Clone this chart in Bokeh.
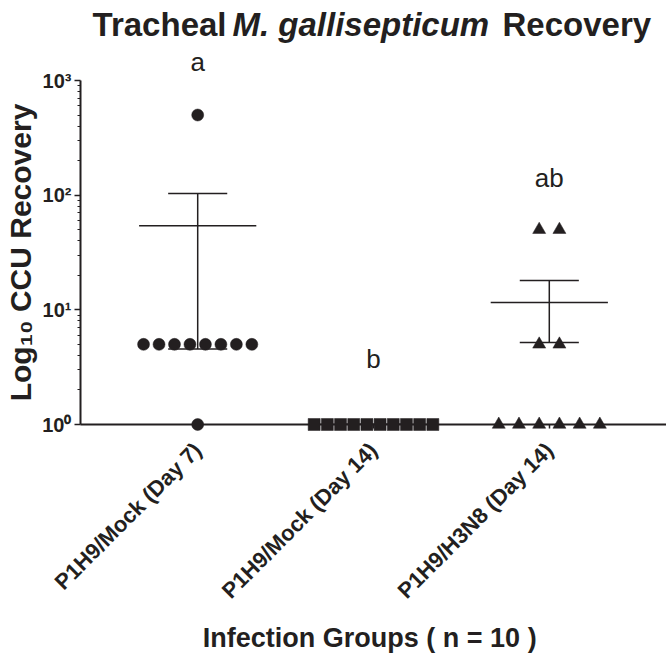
import math
from bokeh.plotting import figure
from bokeh.models import Range1d, FixedTicker, CustomJSTickFormatter, Label
from bokeh.core.properties import value
from bokeh.embed import file_html
from bokeh.resources import INLINE

# ---------------- data ----------------
groups = ["P1H9/Mock (Day 7)", "P1H9/Mock (Day 14)", "P1H9/H3N8 (Day 14)"]
day7_mock = [1, 5, 5, 5, 5, 5, 5, 5, 5, 500]
day14_mock = [1, 1, 1, 1, 1, 1, 1, 1, 1, 1]
day14_h3n8 = [1, 1, 1, 1, 1, 1, 5, 5, 50, 50]
sig_letters = ["a", "b", "ab"]
sig_y = [1450, 3.7, 142]
y_major_ticks = [1, 10, 100, 1000]
y_min, y_max = 1, 1000
y_title = "Log\u2081\u2080 CCU Recovery"
x_title = "Infection  Groups ( n = 10 )"

# ---------------- style / layout ----------------
INK = "#231f20"
FONT = "Liberation Sans"
markers = ["circle", "square", "triangle"]
marker_sizes = [12, 12, 13]
spread = [0.088, 0.075, 0.115]
mean_half = 1 / 3
cap_half = 0.168

W, H = 666, 659
LEFT, BOTTOM = 80, 235
frame_bottom = H - BOTTOM          # 424
axis_top_px = 80                   # where 10^3 sits
decades = math.log10(y_max / y_min)
px_per_decade = (frame_bottom - axis_top_px) / decades
y_end = y_min * 10 ** (frame_bottom / px_per_decade)

series = [day7_mock, day14_mock, day14_h3n8]
group_x = [1, 2, 3]
x_start, x_end = 1 / 3, 3 + 2 / 3

p = figure(width=W, height=H, output_backend="svg", toolbar_location=None,
           y_axis_type="log", x_range=Range1d(x_start, x_end), y_range=Range1d(y_min, y_end),
           min_border_left=LEFT, min_border_right=0, min_border_top=0, min_border_bottom=BOTTOM)
p.outline_line_color = None
p.grid.grid_line_color = None
p.background_fill_color = "white"
p.border_fill_color = "white"

# mean +/- SEM
for gx, vals in zip(group_x, series):
    n = len(vals)
    m = sum(vals) / n
    sd = math.sqrt(sum((v - m) ** 2 for v in vals) / (n - 1))
    se = sd / math.sqrt(n)
    lo, hi = m - se, m + se
    p.segment(x0=[gx - mean_half], y0=[m], x1=[gx + mean_half], y1=[m], line_color=INK, line_width=1.5)
    p.segment(x0=[gx, gx - cap_half, gx - cap_half], y0=[lo, hi, lo],
              x1=[gx, gx + cap_half, gx + cap_half], y1=[hi, hi, lo], line_color=INK, line_width=1.5)

# points
for gx, vals, mk, ms, sp in zip(group_x, series, markers, marker_sizes, spread):
    xs, ys = [], []
    for v in sorted(set(vals)):
        n = vals.count(v)
        for k in range(n):
            xs.append(gx + (k - (n - 1) / 2) * sp)
            ys.append(v)
    r = p.scatter(xs, ys, marker=mk, size=ms, fill_color=INK, line_color=INK, line_width=0.5)
    r.level = "overlay"

# significance letters
for gx, t, yv in zip(group_x, sig_letters, sig_y):
    p.add_layout(Label(x=gx, y=yv, text=t, text_align="center", text_baseline="middle",
                       text_font=FONT, text_font_size="26px", text_color=INK))

# x axis
xa = p.xaxis[0]
xa.ticker = FixedTicker(ticks=group_x)
xa.major_label_overrides = {gx: g for gx, g in zip(group_x, groups)}
xa.major_label_orientation = math.pi / 4
xa.major_label_text_font = FONT
xa.major_label_text_font_style = "bold"
xa.major_label_text_font_size = "22px"
xa.major_label_text_color = INK
xa.major_label_standoff = 18
xa.minor_tick_line_color = None
xa.major_tick_in = 0
xa.major_tick_out = 4
xa.axis_line_width = 2
xa.axis_line_color = INK
xa.major_tick_line_color = INK
xa.major_tick_line_width = 1.5
xa.axis_label = x_title
xa.axis_label_text_font = FONT
xa.axis_label_text_font_style = "bold"
xa.axis_label_text_font_size = "27px"
xa.axis_label_text_color = INK
xa.axis_label_standoff = 8

# y axis (bounded to 10^0 .. 10^3)
ya = p.yaxis[0]
ya.bounds = (y_min, y_max)
ya.ticker = FixedTicker(ticks=y_major_ticks,
                        minor_ticks=[m * t for t in y_major_ticks[:-1] for m in range(2, 10)])
ya.formatter = CustomJSTickFormatter(code="""
const sup = ["\u2070","\u00b9","\u00b2","\u00b3","\u2074","\u2075","\u2076","\u2077","\u2078","\u2079"];
const e = Math.round(Math.log10(tick));
return "10" + String(e).split("").map(d => sup[+d]).join("");
""")
ya.major_label_text_font = FONT
ya.major_label_text_font_style = "bold"
ya.major_label_text_font_size = "20px"
ya.major_label_text_color = INK
ya.major_label_standoff = 3
ya.major_tick_in = 0
ya.major_tick_out = 6
ya.minor_tick_in = 0
ya.minor_tick_out = 3
ya.axis_line_width = 2
ya.axis_line_color = INK
ya.major_tick_line_color = INK
ya.minor_tick_line_color = INK
ya.major_tick_line_width = 1.5

# y axis title, centred on the 10^0..10^3 span, drawn unclipped
yt = p.text(x=[x_start], y=[math.sqrt(y_min * y_max)], text=[y_title], angle=math.pi / 2,
            x_offset=-60, text_align="center", text_baseline="middle",
            text_font=value(FONT), text_font_style="bold", text_font_size="30px", text_color=INK)
yt.level = "overlay"

# title in pieces (screen units, relative to the plotting frame)
title_y = frame_bottom - 24
for txt, xpos, align, style in [("Tracheal", 146, "right", "bold"),
                                ("M. gallisepticum", 152, "left", "bold italic"),
                                ("Recovery", 422, "left", "bold")]:
    p.add_layout(Label(x=xpos, y=title_y, x_units="screen", y_units="screen", text=txt,
                       text_align=align, text_baseline="middle", text_font=FONT,
                       text_font_style=style, text_font_size="33px", text_color=INK))

open("out.html", "w").write(file_html(p, INLINE))
